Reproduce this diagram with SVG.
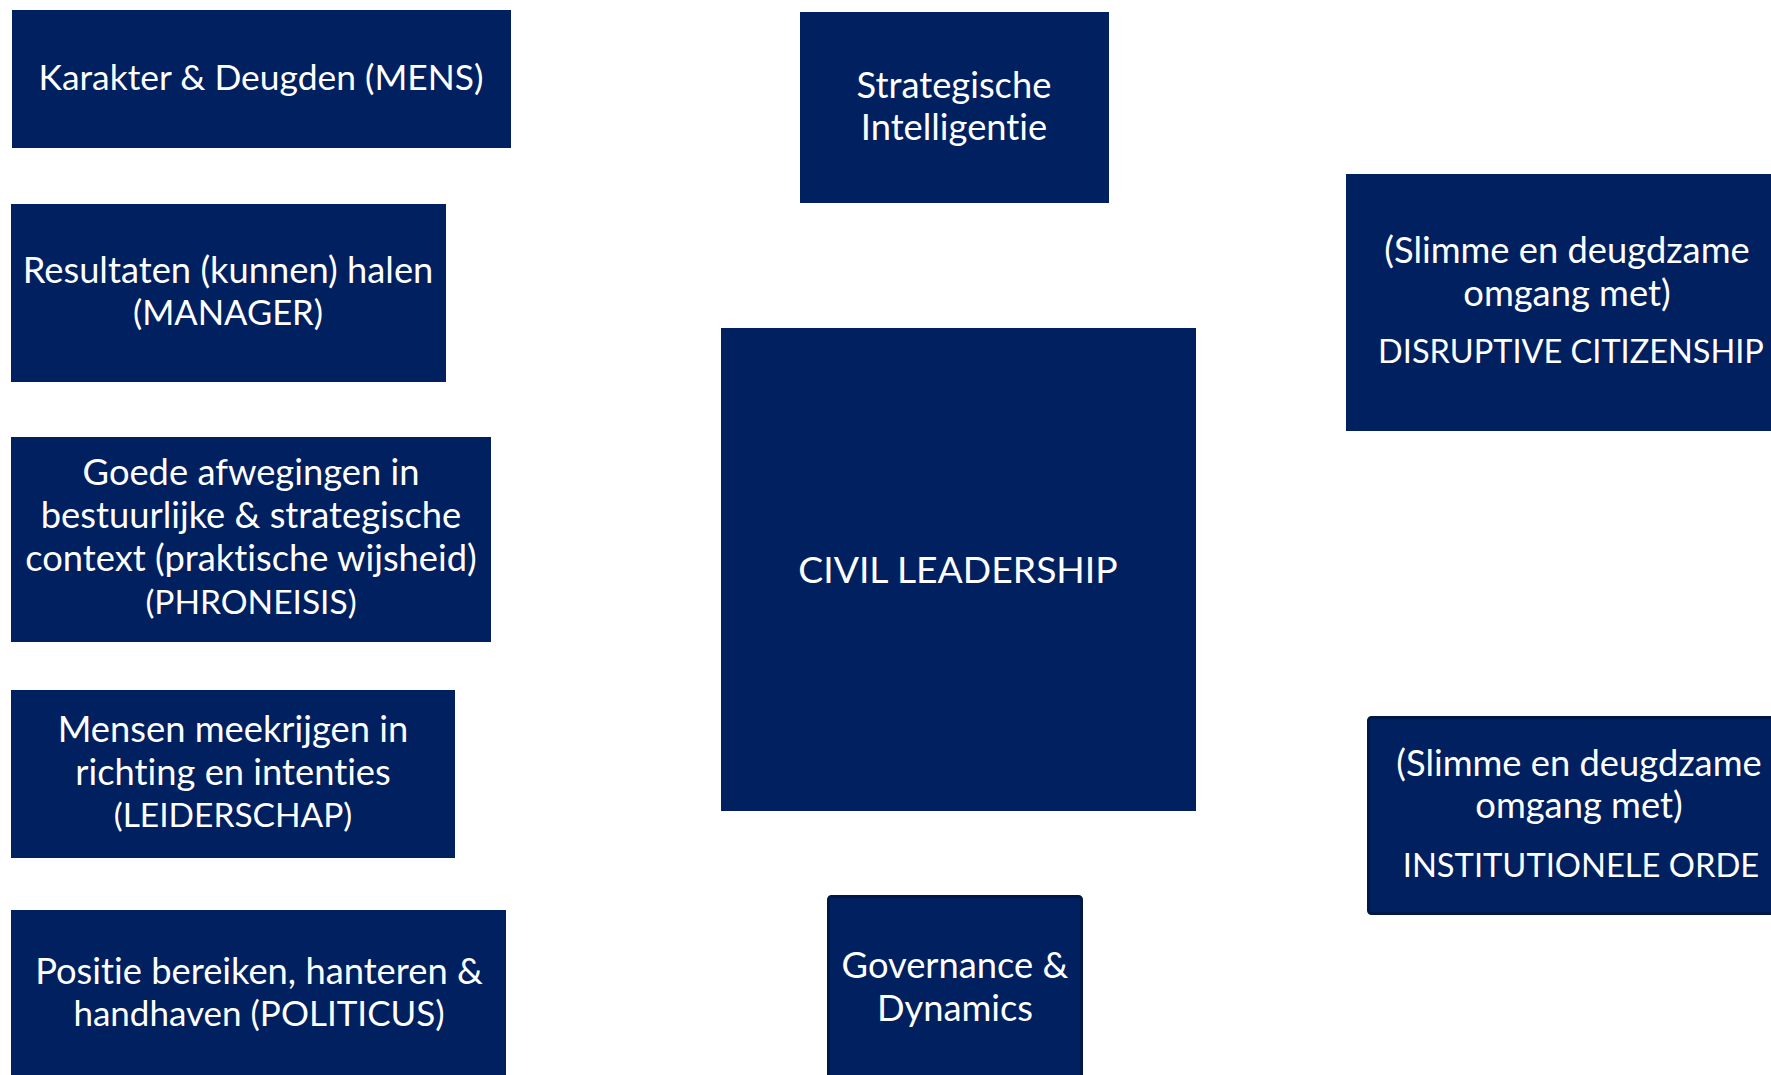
<svg xmlns="http://www.w3.org/2000/svg" width="1771" height="1075" viewBox="0 0 1771 1075">
<style>
.box{fill:#002060;}
.box2{fill:#002060;stroke:#001848;stroke-width:3;}
text{font-family:Lato,"Liberation Sans",sans-serif;font-size:36.3px;fill:#ffffff;text-anchor:middle;font-variant-ligatures:none;}
.caps{font-size:33.5px;}
.big{font-size:37.3px;}
</style>
<rect width="1771" height="1075" fill="#ffffff"/>
<g id="connectors"></g>
<g id="karakter"><rect class="box" x="12" y="10" width="499" height="138"/><text x="261" y="90" style="font-size:35.4px">Karakter &amp; Deugden (MENS)</text></g>
<g id="resultaten"><rect class="box" x="11" y="204" width="435" height="178"/><text x="228" y="283">Resultaten (kunnen) halen</text><text class="caps" x="228" y="325" style="font-size:34.6px">(MANAGER)</text></g>
<g id="goede"><rect class="box" x="11" y="437" width="480" height="205"/><text x="251" y="485">Goede afwegingen in</text><text x="251" y="528">bestuurlijke &amp; strategische</text><text x="251" y="571">context (praktische wijsheid)</text><text class="caps" x="251" y="614">(PHRONEISIS)</text></g>
<g id="mensen"><rect class="box" x="11" y="690" width="444" height="168"/><text x="233" y="742">Mensen meekrijgen in</text><text x="233" y="785">richting en intenties</text><text class="caps" x="233" y="827">(LEIDERSCHAP)</text></g>
<g id="positie"><rect class="box" x="11" y="910" width="495" height="170"/><text x="259" y="984">Positie bereiken, hanteren &amp;</text><text x="259" y="1026" style="font-size:35px">handhaven (POLITICUS)</text></g>
<g id="strategische"><rect class="box" x="800" y="12" width="309" height="191"/><text x="954" y="98">Strategische</text><text x="954" y="140">Intelligentie</text></g>
<g id="civil"><rect class="box" x="721" y="328" width="475" height="483"/><text class="big" x="958" y="583">CIVIL LEADERSHIP</text></g>
<g id="governance"><rect class="box2" x="828.5" y="896.5" width="253" height="190" rx="3"/><text x="955" y="978">Governance &amp;</text><text x="955" y="1021">Dynamics</text></g>
<g id="disruptive"><rect class="box" x="1346" y="174" width="430" height="257"/><text x="1567" y="263">(Slimme en deugdzame</text><text x="1567" y="306">omgang met)</text><text class="caps" x="1571" y="363" style="font-size:32.5px">DISRUPTIVE CITIZENSHIP</text></g>
<g id="institutionele"><rect class="box2" x="1368.5" y="717.5" width="410" height="196" rx="3"/><text x="1579" y="776">(Slimme en deugdzame</text><text x="1579" y="818">omgang met)</text><text class="caps" x="1581" y="877" style="font-size:32.7px">INSTITUTIONELE ORDE</text></g>
</svg>
